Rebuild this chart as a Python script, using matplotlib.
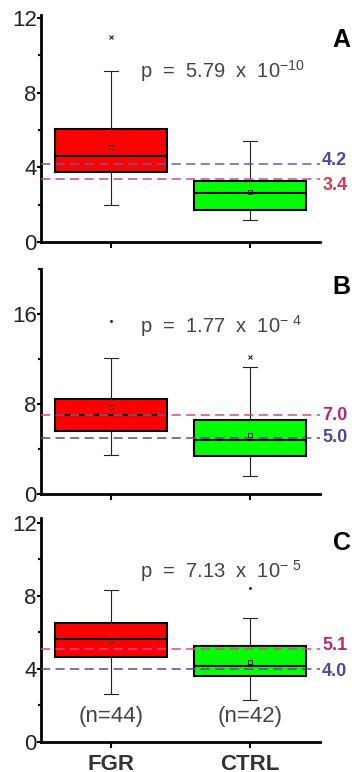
import numpy as np
import matplotlib
matplotlib.use("Agg")
import matplotlib.pyplot as plt
from matplotlib.ticker import MultipleLocator

plt.rcParams['font.family'] = ['Liberation Sans', 'DejaVu Sans']
plt.rcParams['mathtext.default'] = 'regular'

groups = ["FGR", "CTRL"]
box_colors = ["#ff0000", "#00ff00"]

# Panel A
q1_A = [3.73, 1.73]
med_A = [4.59, 2.63]
q3_A = [6.05, 3.29]
lo_A = [1.96, 1.16]
hi_A = [9.14, 5.39]
mean_A = [5.07, 2.66]
fliers_A = [[10.96], []]
ref_A = [4.2, 3.4]
refcol_A = ["#4b4b9b", "#d23a4a"]
linecol_A = ["#6060a8", "#c04aa0"]
p_A = r"p  =  5.79  x  10$^{-10}$"

# Panel B
q1_B = [5.57, 3.35]
med_B = [6.99, 4.77]
q3_B = [8.47, 6.55]
lo_B = [3.50, 1.57]
hi_B = [12.09, 11.29]
mean_B = [7.70, 5.21]
fliers_B = [[15.4], [12.18]]
ref_B = [7.0, 5.0]
refcol_B = ["#b8287a", "#4b4b9b"]
linecol_B = ["#d04a98", "#50508e"]
p_B = r"p  =  1.77  x  10$^{-\ 4}$"

# Panel C
q1_C = [4.66, 3.60]
med_C = [5.61, 4.15]
q3_C = [6.52, 5.24]
lo_C = [2.63, 2.32]
hi_C = [8.31, 6.76]
mean_C = [5.55, 4.38]
fliers_C = [[], [8.44]]
ref_C = [5.1, 4.0]
refcol_C = ["#b8287a", "#4b4b9b"]
linecol_C = ["#d04a98", "#50508e"]
p_C = r"p  =  7.13  x  10$^{-\ 5}$"
n_labels = ["(n=44)", "(n=42)"]

panels = [
    dict(q1=q1_A, med=med_A, q3=q3_A, lo=lo_A, hi=hi_A, mean=mean_A, fl=fliers_A,
         ref=ref_A, refcol=refcol_A, linecol=linecol_A, p=p_A, py=8.8, ylim=12.15,
         major=4, minor=2, letter="A", ly=0.89, fmark=["x", "."], loff=[2, -5],
         rect=[0.115, 0.6865, 0.784, 0.294]),
    dict(q1=q1_B, med=med_B, q3=q3_B, lo=lo_B, hi=hi_B, mean=mean_B, fl=fliers_B,
         ref=ref_B, refcol=refcol_B, linecol=linecol_B, p=p_B, py=14.3, ylim=20,
         major=8, minor=4, letter="B", ly=0.92, fmark=[".", "x"], loff=[0, 0],
         rect=[0.115, 0.360, 0.784, 0.2915]),
    dict(q1=q1_C, med=med_C, q3=q3_C, lo=lo_C, hi=hi_C, mean=mean_C, fl=fliers_C,
         ref=ref_C, refcol=refcol_C, linecol=linecol_C, p=p_C, py=9.0, ylim=12.25,
         major=4, minor=2, letter="C", ly=0.89, fmark=["x", "."], loff=[2, -2],
         rect=[0.115, 0.0389, 0.784, 0.290]),
]

fig = plt.figure(figsize=(3.56, 7.72), dpi=100)

for k, pn in enumerate(panels):
    ax = fig.add_axes(pn["rect"])
    stats = []
    for i in range(2):
        stats.append(dict(label=groups[i], q1=pn["q1"][i], med=pn["med"][i], q3=pn["q3"][i],
                          whislo=pn["lo"][i], whishi=pn["hi"][i], mean=pn["mean"][i], fliers=[]))
    bp = ax.bxp(stats, positions=[1, 2], widths=0.8, patch_artist=True, showmeans=True,
                showfliers=False,
                boxprops=dict(linewidth=1.5, edgecolor="black"),
                medianprops=dict(color="black", linewidth=1.5),
                whiskerprops=dict(color="#222222", linewidth=0.8),
                capprops=dict(color="#222222", linewidth=0.8),
                meanprops=dict(marker="s", markerfacecolor="none", markeredgecolor="#222222",
                               markersize=3.5, markeredgewidth=0.7),
                capwidths=0.1)
    for patch, c in zip(bp["boxes"], box_colors):
        patch.set_facecolor(c)
    for i in range(2):
        if pn["fl"][i]:
            ax.plot([i + 1] * len(pn["fl"][i]), pn["fl"][i], pn["fmark"][i], color="#222222",
                    markersize=3 if pn["fmark"][i] == "x" else 2.5, markeredgewidth=0.8)

    # reference dashed lines and labels
    for v, tc, lc, off in zip(pn["ref"], pn["refcol"], pn["linecol"], pn["loff"]):
        ax.axhline(v, color=lc, linestyle=(0, (6, 3.5)), linewidth=1.1, zorder=3)
        ax.annotate("%.1f" % v, xy=(2.515, v), xytext=(0, off), textcoords="offset points",
                    color=tc, fontsize=13, fontweight="bold",
                    va="center", ha="left", annotation_clip=False)

    ax.text(1.21, pn["py"], pn["p"], color="#444444", fontsize=14.5, va="baseline", ha="left")
    ax.text(1.045, pn["ly"], pn["letter"], transform=ax.transAxes, fontsize=18,
            fontweight="bold", va="center", ha="left")

    ax.set_xlim(0.5, 2.5)
    ax.set_ylim(0, pn["ylim"])
    ax.yaxis.set_major_locator(MultipleLocator(pn["major"]))
    ax.yaxis.set_minor_locator(MultipleLocator(pn["minor"]))
    for s in ["top", "right"]:
        ax.spines[s].set_visible(False)
    for s in ["left", "bottom"]:
        ax.spines[s].set_linewidth(2)
    ax.tick_params(axis="y", which="major", direction="out", length=3, width=1.5, pad=0,
                   labelsize=16, labelcolor="#222222")
    ax.tick_params(axis="y", which="minor", direction="out", length=2.5, width=1.5)
    ax.tick_params(axis="x", direction="out", length=4, width=1.5, pad=5,
                   labelsize=16, labelcolor="#333333")
    ax.set_xticks([1, 2])
    if k == 2:
        ax.set_xticklabels(groups, fontweight="bold")
        for i in range(2):
            ax.text(i + 1, 1.4, n_labels[i], color="#444444", fontsize=16, ha="center", va="center")
    else:
        ax.set_xticklabels(["", ""])

fig.savefig("out.png", dpi=100)
